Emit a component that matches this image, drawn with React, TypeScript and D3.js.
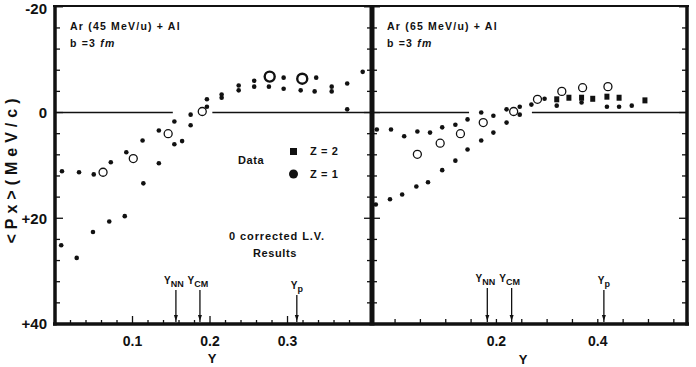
import React from 'react';
import * as d3 from 'd3';

const W = 696;
const H = 367;
const FONT = '"Liberation Sans", Arial, sans-serif';
const INK = '#111';

// y axis (<Px>, MeV/c) is drawn inverted: -20 at the top, +40 at the bottom
const yMajorTicks = [-20, 0, 20, 40];
const yTickLabels = ['-20', '0', '+20', '+40'];

// left panel: Ar (45 MeV/u) + Al
const leftXTickLabels = ['0.1', '0.2', '0.3'];
const leftXMajor = [0.1, 0.2, 0.3];
const leftShallow: [number, number][] = [
  [0.009, 11.1], [0.031, 11.3], [0.05, 11.7], [0.072, 9.4], [0.092, 7.5], [0.113, 5.3],
  [0.134, 3.4], [0.154, 1.7], [0.175, 0.4], [0.196, -1.1], [0.215, -2.8], [0.237, -4.2],
  [0.257, -4.9], [0.276, -4.9], [0.295, -4.5], [0.317, -4.2], [0.335, -4.0], [0.357, -4.0],
  [0.377, -0.6],
];
const leftSteep: [number, number][] = [
  [0.008, 25.1], [0.028, 27.5], [0.049, 22.6], [0.07, 20.6], [0.09, 19.6], [0.114, 13.4],
  [0.134, 9.6], [0.154, 6.0], [0.164, 5.4], [0.175, 2.4], [0.196, -2.5], [0.215, -3.4],
  [0.237, -5.1], [0.257, -6.0], [0.277, -6.4], [0.295, -6.6], [0.317, -6.2], [0.337, -6.6],
  [0.357, -4.9], [0.377, -5.5], [0.397, -7.7],
];
const leftReflected: [number, number][] = [[0.062, 11.3], [0.101, 8.7], [0.146, 4.0], [0.19, -0.2]];
const leftZ1: [number, number][] = [[0.277, -6.8], [0.319, -6.4]];
const leftZeroLine: [number, number][] = [[0, 0.152], [0.203, 0.409]];
const leftMarkers = [
  { name: 'NN', x: 0.156 },
  { name: 'CM', x: 0.187 },
  { name: 'P', x: 0.312 },
];

// right panel: Ar (65 MeV/u) + Al
const rightXTickLabels = ['0.2', '0.4'];
const rightXMajor = [0.2, 0.4];
const rightShallow: [number, number][] = [
  [-0.036, 3.2], [-0.008, 3.2], [0.018, 4.5], [0.044, 3.6], [0.069, 3.8], [0.093, 2.8],
  [0.119, 2.3], [0.143, 1.3], [0.17, 0.0], [0.194, 0.6], [0.22, -0.6], [0.246, -1.1],
  [0.269, -1.5], [0.295, -2.6],
];
const rightSteep: [number, number][] = [
  [-0.038, 17.4], [-0.01, 16.4], [0.014, 15.5], [0.042, 14.0], [0.065, 13.2], [0.093, 10.9],
  [0.119, 9.1], [0.143, 7.0], [0.17, 5.3], [0.194, 3.8], [0.22, 1.9], [0.246, 0.4],
  [0.319, -1.3], [0.368, -1.9], [0.418, -1.1], [0.442, -1.1], [0.467, -1.3],
];
const rightZ2: [number, number][] = [
  [0.319, -2.5], [0.343, -2.8], [0.368, -2.8], [0.39, -2.6], [0.418, -3.0], [0.442, -2.8], [0.493, -2.3],
];
const rightReflected: [number, number][] = [
  [0.044, 7.9], [0.089, 5.8], [0.129, 4.0], [0.174, 1.9], [0.234, -0.2], [0.281, -2.5],
];
const rightZ1: [number, number][] = [[0.329, -4.0], [0.37, -4.7], [0.42, -4.9]];
const rightZeroLine: [number, number][] = [[-0.0455, 0.146], [0.27, 0.576]];
const rightMarkers = [
  { name: 'NN', x: 0.182 },
  { name: 'CM', x: 0.23 },
  { name: 'P', x: 0.412 },
];

const top = 6;
const bottom = 324;
const yScale = d3.scaleLinear().domain([-20, 40]).range([top + 0.8, bottom]);
const xLeft = d3.scaleLinear().domain([0, 0.409]).range([55, 372]);
const xRight = d3.scaleLinear().domain([-0.0455, 0.576]).range([372, 687]);

const yMinor = d3.range(-20, 41, 4);

const Marker = ({ x, name, labelY }: { x: number; name: string; labelY: number }) => (
  <g>
    <text x={x} y={labelY} textAnchor="middle" fontSize={10} fontWeight="bold" fontFamily={FONT} fill={INK}>
      <tspan dx={name === 'P' ? 0 : -2}>Y</tspan>
      <tspan fontSize={9} dy={3}>{name === 'P' ? 'p' : name}</tspan>
    </text>
    <line x1={x} x2={x} y1={labelY + 6} y2={bottom - 2} stroke={INK} strokeWidth={1.3} />
    <path d={`M${x - 2},${bottom - 9} L${x + 2},${bottom - 9} L${x},${bottom - 3} Z`} fill={INK} />
  </g>
);

const Dots = ({ pts, x }: { pts: [number, number][]; x: d3.ScaleLinear<number, number> }) => (
  <g>
    {pts.map((d, i) => (
      <circle key={i} cx={x(d[0])} cy={yScale(d[1])} r={2.3} fill={INK} />
    ))}
  </g>
);

const Rings = ({ pts, x, r, sw }: { pts: [number, number][]; x: d3.ScaleLinear<number, number>; r: number; sw: number }) => (
  <g>
    {pts.map((d, i) => (
      <circle key={i} cx={x(d[0])} cy={yScale(d[1])} r={r} fill="white" stroke={INK} strokeWidth={sw} />
    ))}
  </g>
);

const Squares = ({ pts, x }: { pts: [number, number][]; x: d3.ScaleLinear<number, number> }) => (
  <g>
    {pts.map((d, i) => (
      <rect key={i} x={x(d[0]) - 2.5} y={yScale(d[1]) - 3} width={5} height={6} fill={INK} />
    ))}
  </g>
);

export default function App() {
  const txt = { fontFamily: FONT, fontWeight: 'bold' as const, fill: INK };
  return (
    <div style={{ position: 'absolute', left: 0, top: 0, width: W, height: H, background: 'white' }}>
      <svg width={W} height={H} style={{ display: 'block' }}>
        <rect width={W} height={H} fill="white" />

        {/* zero lines */}
        {leftZeroLine.map((s, i) => (
          <line key={'lz' + i} x1={xLeft(s[0])} x2={xLeft(s[1])} y1={yScale(0)} y2={yScale(0)} stroke={INK} strokeWidth={1.6} />
        ))}
        {rightZeroLine.map((s, i) => (
          <line key={'rz' + i} x1={xRight(s[0])} x2={xRight(s[1])} y1={yScale(0)} y2={yScale(0)} stroke={INK} strokeWidth={1.6} />
        ))}

        {/* data */}
        <Dots pts={leftShallow} x={xLeft} />
        <Dots pts={leftSteep} x={xLeft} />
        <Rings pts={leftReflected} x={xLeft} r={4} sw={1.3} />
        <Rings pts={leftZ1} x={xLeft} r={5} sw={2.4} />
        <Dots pts={rightShallow} x={xRight} />
        <Dots pts={rightSteep} x={xRight} />
        <Squares pts={rightZ2} x={xRight} />
        <Rings pts={rightReflected} x={xRight} r={4} sw={1.3} />
        <Rings pts={rightZ1} x={xRight} r={4} sw={1.3} />

        {/* frame */}
        <line x1={53} x2={689} y1={top} y2={top} stroke={INK} strokeWidth={2.2} />
        <line x1={53} x2={689} y1={bottom} y2={bottom} stroke={INK} strokeWidth={3.5} />
        <line x1={55} x2={55} y1={top} y2={bottom + 1.5} stroke={INK} strokeWidth={3.5} />
        <line x1={372} x2={372} y1={top} y2={bottom + 1.5} stroke={INK} strokeWidth={5} />
        <line x1={687} x2={687} y1={top} y2={bottom + 1.5} stroke={INK} strokeWidth={3.5} />

        {/* y ticks */}
        {yMinor.map(v => {
          const len = yMajorTicks.includes(v) ? 8 : 5;
          const y = yScale(v);
          return (
            <g key={'yt' + v}>
              <line x1={55} x2={55 + len} y1={y} y2={y} stroke={INK} strokeWidth={1.3} />
              <line x1={372 - len} x2={372 + len} y1={y} y2={y} stroke={INK} strokeWidth={1.3} />
              <line x1={687 - len} x2={687} y1={y} y2={y} stroke={INK} strokeWidth={1.3} />
            </g>
          );
        })}
        {yMajorTicks.map((v, i) => (
          <text key={'yl' + v} x={47} y={Math.max(yScale(v), 9)} dy="0.36em" textAnchor="end" fontSize={15} {...txt}>
            {yTickLabels[i]}
          </text>
        ))}

        {/* x ticks */}
        {d3.range(0.02, 0.4, 0.02).map(v => {
          const major = leftXMajor.some(m => Math.abs(m - v) < 1e-6);
          return <line key={'lx' + v} x1={xLeft(v)} x2={xLeft(v)} y1={bottom} y2={bottom - (major ? 8 : 4)} stroke={INK} strokeWidth={1.3} />;
        })}
        {leftXMajor.map((v, i) => (
          <text key={'lxl' + v} x={xLeft(v)} y={341} dy="0.36em" textAnchor="middle" fontSize={14} {...txt}>
            {leftXTickLabels[i]}
          </text>
        ))}
        {d3.range(0, 0.56, 0.05).map(v => (
          <line key={'rx' + v} x1={xRight(v)} x2={xRight(v)} y1={bottom} y2={bottom - 5} stroke={INK} strokeWidth={1.3} />
        ))}
        {rightXMajor.map((v, i) => (
          <text key={'rxl' + v} x={xRight(v)} y={341} dy="0.36em" textAnchor="middle" fontSize={14} {...txt}>
            {rightXTickLabels[i]}
          </text>
        ))}

        {/* axis titles */}
        <text x={212} y={358} dy="0.36em" textAnchor="middle" fontSize={13} {...txt}>Y</text>
        <text x={523} y={359} dy="0.36em" textAnchor="middle" fontSize={13} {...txt}>Y</text>
        <text
          transform="translate(11,171) rotate(-90)"
          textAnchor="middle"
          dy="0.36em"
          fontSize={16}
          textLength={145}
          lengthAdjust="spacing"
          {...txt}
        >
          {'<Px>(MeV/c)'}
        </text>

        {/* panel titles */}
        <text x={70} y={26} dy="0.36em" fontSize={10.5} letterSpacing={1.2} {...txt}>Ar (45 MeV/u) + Al</text>
        <text x={70} y={43} dy="0.36em" fontSize={10.5} letterSpacing={1.2} {...txt}>
          b =3 <tspan fontStyle="italic">fm</tspan>
        </text>
        <text x={387} y={26} dy="0.36em" fontSize={10.5} letterSpacing={1.2} {...txt}>Ar (65 MeV/u) + Al</text>
        <text x={387} y={43} dy="0.36em" fontSize={10.5} letterSpacing={1.2} {...txt}>
          b =3 <tspan fontStyle="italic">fm</tspan>
        </text>

        {/* legend */}
        <text x={238} y={160} dy="0.36em" fontSize={11} letterSpacing={0.6} {...txt}>Data</text>
        <rect x={290} y={148} width={7} height={7} fill={INK} />
        <text x={310} y={151} dy="0.36em" fontSize={11} letterSpacing={0.6} {...txt}>Z = 2</text>
        <circle cx={293.5} cy={174} r={4.5} fill={INK} />
        <text x={310} y={174} dy="0.36em" fontSize={11} letterSpacing={0.6} {...txt}>Z = 1</text>
        <text x={277} y={236} dy="0.36em" textAnchor="middle" fontSize={11} letterSpacing={0.9} {...txt}>0 corrected L.V.</text>
        <text x={275} y={253} dy="0.36em" textAnchor="middle" fontSize={11} letterSpacing={0.6} {...txt}>Results</text>

        {/* rapidity markers */}
        {leftMarkers.map(m => (
          <Marker key={'lm' + m.name} x={xLeft(m.x)} name={m.name} labelY={m.name === 'P' ? 289 : 284} />
        ))}
        {rightMarkers.map(m => (
          <Marker key={'rm' + m.name} x={xRight(m.x)} name={m.name} labelY={m.name === 'P' ? 284 : 282} />
        ))}
      </svg>
    </div>
  );
}
